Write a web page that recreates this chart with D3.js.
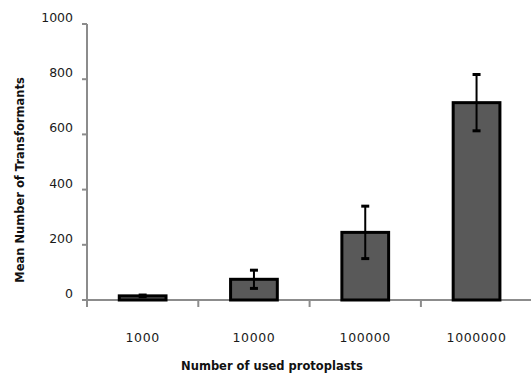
<!DOCTYPE html>
<html lang="en">
<head>
    <meta charset="UTF-8">
    <title>Mean Number of Transformants</title>
    <style>
        body {
            margin: 0;
            overflow: hidden;
            background: white;
            font-family: 'DejaVu Sans', sans-serif;
        }
        .tick-label {
            font-size: 12.5px;
            fill: #1a1a1a;
        }
        .axis-title {
            font-size: 11.5px;
            font-weight: bold;
            fill: #111;
        }
    </style>
    <script src="https://d3js.org/d3.v7.min.js"></script>
</head>
<body>
    <div id="chart"></div>
    <script>
        const categories = ["1000", "10000", "100000", "1000000"];
        const means = [15, 75, 245, 715];
        const errors = [3, 33, 95, 102];
        const yTicks = [0, 200, 400, 600, 800, 1000];

        const width = 531, height = 374;
        const margin = { left: 87, right: 0, top: 24, bottom: 74 };

        const svg = d3.select("#chart")
            .append("svg")
            .attr("width", width)
            .attr("height", height);

        const x = d3.scaleBand()
            .domain(categories)
            .range([margin.left, margin.left + 4 * 111.3])
            .paddingInner(0.58)
            .paddingOuter(0.29);

        const y = d3.scaleLinear()
            .domain([0, 1000])
            .range([height - margin.bottom, margin.top]);

        const axisColor = "#8c8c8c";
        const y0 = y(0);

        // y axis
        svg.append("line")
            .attr("x1", margin.left).attr("x2", margin.left)
            .attr("y1", y(1000)).attr("y2", y0 + 7)
            .attr("stroke", axisColor).attr("stroke-width", 2);

        svg.selectAll(".ytick")
            .data(yTicks)
            .enter().append("line")
            .attr("x1", margin.left - 5).attr("x2", margin.left)
            .attr("y1", d => y(d)).attr("y2", d => y(d))
            .attr("stroke", axisColor).attr("stroke-width", 2);

        svg.selectAll(".ylabel")
            .data(yTicks)
            .enter().append("text")
            .attr("class", "tick-label")
            .attr("x", 73)
            .attr("y", d => y(d) - 2)
            .attr("text-anchor", "end")
            .text(d => d);

        // x axis
        svg.append("line")
            .attr("x1", margin.left - 1).attr("x2", width)
            .attr("y1", y0).attr("y2", y0)
            .attr("stroke", axisColor).attr("stroke-width", 2);

        const step = x.step();
        svg.selectAll(".xtick")
            .data(categories)
            .enter().append("line")
            .attr("x1", (d, i) => margin.left + i * step)
            .attr("x2", (d, i) => margin.left + i * step)
            .attr("y1", y0).attr("y2", y0 + 7)
            .attr("stroke", axisColor).attr("stroke-width", 2);

        svg.selectAll(".xlabel")
            .data(categories)
            .enter().append("text")
            .attr("class", "tick-label")
            .attr("x", d => x(d) + x.bandwidth() / 2)
            .attr("y", 342)
            .attr("text-anchor", "middle")
            .attr("letter-spacing", "0.6px")
            .text(d => d);

        // bars
        svg.selectAll(".bar")
            .data(means)
            .enter().append("rect")
            .attr("x", (d, i) => x(categories[i]))
            .attr("y", d => y(d))
            .attr("width", x.bandwidth())
            .attr("height", d => y0 - y(d))
            .attr("fill", "#595959")
            .attr("stroke", "black")
            .attr("stroke-width", 3);

        // error bars
        const eb = svg.selectAll(".err")
            .data(means)
            .enter().append("g");

        const cx = (i) => x(categories[i]) + x.bandwidth() / 2;

        eb.append("line")
            .attr("x1", (d, i) => cx(i)).attr("x2", (d, i) => cx(i))
            .attr("y1", (d, i) => y(d + errors[i]))
            .attr("y2", (d, i) => y(d - errors[i]))
            .attr("stroke", "black").attr("stroke-width", 2);

        [1, -1].forEach(s => {
            eb.append("line")
                .attr("x1", (d, i) => cx(i) - 4).attr("x2", (d, i) => cx(i) + 4)
                .attr("y1", (d, i) => y(d + s * errors[i]))
                .attr("y2", (d, i) => y(d + s * errors[i]))
                .attr("stroke", "black").attr("stroke-width", 3);
        });

        // axis titles
        svg.append("text")
            .attr("class", "axis-title")
            .attr("x", 272)
            .attr("y", 370)
            .attr("text-anchor", "middle")
            .text("Number of used protoplasts");

        svg.append("text")
            .attr("class", "axis-title")
            .attr("transform", "translate(24,180) rotate(-90)")
            .attr("text-anchor", "middle")
            .text("Mean Number of Transformants");
    </script>
</body>
</html>
